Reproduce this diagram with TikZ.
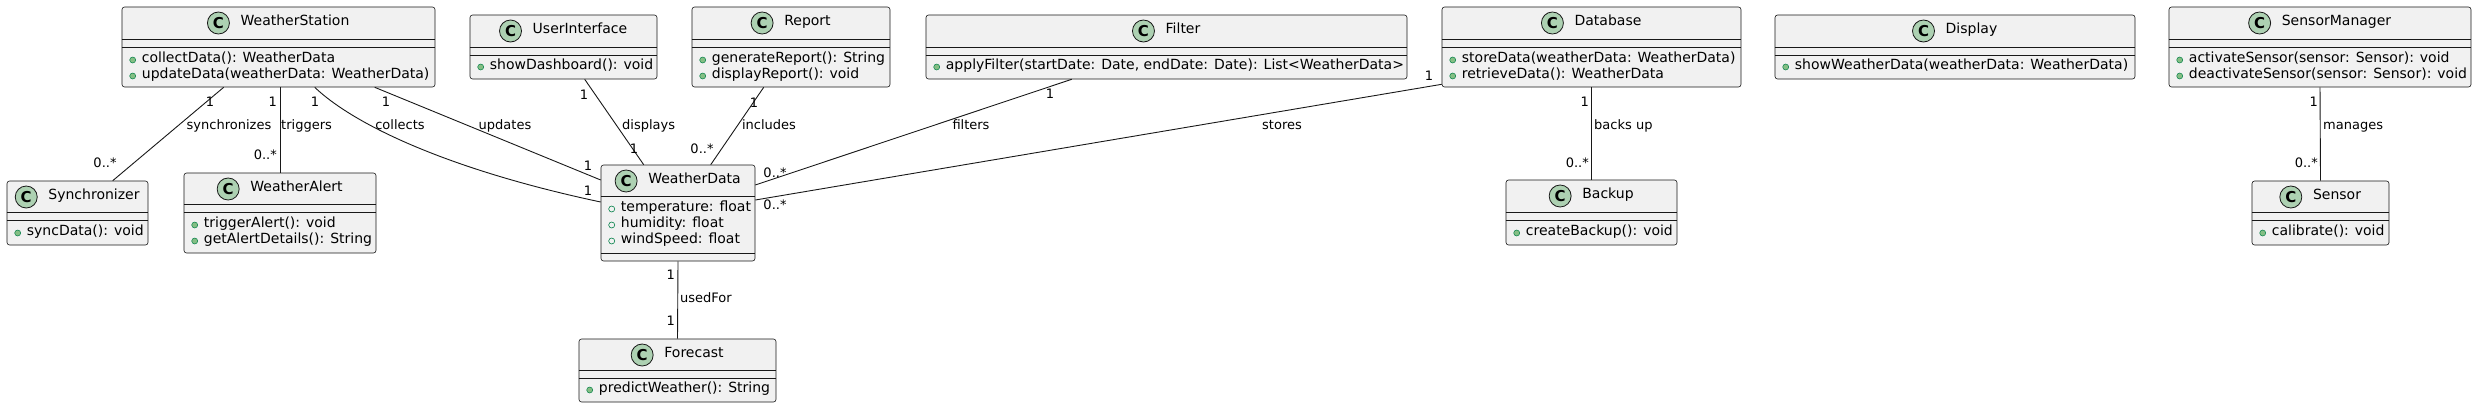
\documentclass[tikz,border=0pt]{standalone}
\usepackage{fontspec}
\setmainfont{DejaVu Sans}
\usepackage{tikz}
\usetikzlibrary{positioning,calc}
\definecolor{umlfill}{HTML}{F1F1F1}
\definecolor{umlline}{HTML}{181818}
\definecolor{umlicon}{HTML}{ADD1B2}
\definecolor{opfill}{HTML}{84BE84}
\definecolor{opline}{HTML}{038048}
\tikzset{
	classbox/.style={draw=umlline, line width=0.6pt, fill=umlfill, rounded corners=2.5pt, inner sep=0pt},
	classname/.style={inner sep=0pt, anchor=mid, font=\fontsize{14}{16}\selectfont},
	classicon/.style={circle, draw=umlline, line width=0.8pt, fill=umlicon, minimum size=22pt, inner sep=0pt, font=\fontsize{15}{16}\selectfont\bfseries},
	member/.style={inner sep=0pt, anchor=mid west, font=\fontsize{14}{16}\selectfont},
	assoc/.style={draw=umlline, line width=0.9pt},
	mult/.style={inner sep=0pt, anchor=mid, font=\fontsize{13}{15}\selectfont},
}
\newcounter{umlrow}
% class box: name, x1, y1, x2, y2, title
\newcommand{\umlclass}[6]{%
	\node[classbox, minimum width={#4-#2}, minimum height={#5-#3}] (#1) at ({(#2+#4)/2},{(#3+#5)/2}) {};
	\node[classname] (#1-name) at ({(#2+#4)/2+16.5},{#3+16}) {#6};
	\node[classicon] (#1-icon) at ([xshift=-22pt]#1-name.mid west) {C};
}
% compartment line
\newcommand{\umlsep}[2]{%
	\draw[umlline, line width=0.6pt] (#1.west |- 0,#2) -- (#1.east |- 0,#2);
}
% public operation
\newcommand{\umlop}[3]{%
	\stepcounter{umlrow}
	\filldraw[fill=opfill, draw=opline, line width=0.5pt] ($(#1.west |- 0,#2)+(11,0)$) circle (3pt);
	\node[member] (row\theumlrow) at ($(#1.west |- 0,#2)+(20,0)$) {#3};
}
% public field
\newcommand{\umlattr}[3]{%
	\stepcounter{umlrow}
	\draw[draw=opline, line width=0.6pt] ($(#1.west |- 0,#2)+(11,0)$) circle (3pt);
	\node[member] (row\theumlrow) at ($(#1.west |- 0,#2)+(20,0)$) {#3};
}
\begin{document}
\begin{tikzpicture}[x=1pt, y=-1pt]
	\useasboundingbox (0,0) rectangle (2477,408);
	% top row
	\umlclass{ws}{122}{7}{435}{87}{WeatherStation}
	\umlsep{ws}{39}\umlsep{ws}{47}
	\umlop{ws}{60}{collectData(): WeatherData}
	\umlop{ws}{76}{updateData(weatherData: WeatherData)}
	\umlclass{ui}{470}{15}{657}{79}{UserInterface}
	\umlsep{ui}{47}\umlsep{ui}{55}
	\umlop{ui}{67}{showDashboard(): void}
	\umlclass{report}{692}{7}{890}{87}{Report}
	\umlsep{report}{39}\umlsep{report}{47}
	\umlop{report}{60}{generateReport(): String}
	\umlop{report}{76}{displayReport(): void}
	\umlclass{filter}{926}{15}{1407}{79}{Filter}
	\umlsep{filter}{47}\umlsep{filter}{55}
	\umlop{filter}{67}{applyFilter(startDate: Date, endDate: Date): List<WeatherData>}
	\umlclass{db}{1442}{7}{1741}{87}{Database}
	\umlsep{db}{39}\umlsep{db}{47}
	\umlop{db}{60}{storeData(weatherData: WeatherData)}
	\umlop{db}{76}{retrieveData(): WeatherData}
	\umlclass{display}{1775}{15}{2135}{79}{Display}
	\umlsep{display}{47}\umlsep{display}{55}
	\umlop{display}{67}{showWeatherData(weatherData: WeatherData)}
	\umlclass{sm}{2169}{7}{2471}{87}{SensorManager}
	\umlsep{sm}{39}\umlsep{sm}{47}
	\umlop{sm}{60}{activateSensor(sensor: Sensor): void}
	\umlop{sm}{76}{deactivateSensor(sensor: Sensor): void}
	% lower rows
	\umlclass{sync}{7}{181}{148}{245}{Synchronizer}
	\umlsep{sync}{212}\umlsep{sync}{220}
	\umlop{sync}{233}{syncData(): void}
	\umlclass{alert}{184}{173}{376}{253}{WeatherAlert}
	\umlsep{alert}{204}\umlsep{alert}{212}
	\umlop{alert}{225}{triggerAlert(): void}
	\umlop{alert}{241}{getAlertDetails(): String}
	\umlclass{wd}{601}{165}{755}{261}{WeatherData}
	\umlsep{wd}{196}\umlsep{wd}{253}
	\umlattr{wd}{209}{temperature: float}
	\umlattr{wd}{225}{humidity: float}
	\umlattr{wd}{241}{windSpeed: float}
	\umlclass{forecast}{579}{339}{776}{402}{Forecast}
	\umlsep{forecast}{370}\umlsep{forecast}{378}
	\umlop{forecast}{390}{predictWeather(): String}
	\umlclass{backup}{1506}{180}{1677}{245}{Backup}
	\umlsep{backup}{212}\umlsep{backup}{220}
	\umlop{backup}{233}{createBackup(): void}
	\umlclass{sensor}{2252}{181}{2389}{245}{Sensor}
	\umlsep{sensor}{212}\umlsep{sensor}{220}
	\umlop{sensor}{233}{calibrate(): void}
	% associations
	\draw[assoc] ([xshift=102pt]ws.south west) -- ([xshift=106pt]sync.north west);
	\draw[assoc] (ws.south -| alert.north) -- (alert.north);
	\draw[assoc] ([xshift=193pt]ws.south west) .. controls +(40,38) and +(-151,-32) .. ([yshift=11pt]wd.west);
	\draw[assoc] ([xshift=253pt]ws.south west) -- ([yshift=33pt]wd.west);
	\draw[assoc] ([xshift=115pt]ui.south west) -- ([xshift=43pt]wd.north west);
	\draw[assoc] ([xshift=72pt]report.south west) -- ([xshift=110pt]wd.north west);
	\draw[assoc] ([xshift=146pt]filter.south west) -- ([yshift=28pt]wd.east);
	\draw[assoc] ([yshift=3pt]db.south west) -- ([yshift=13pt]wd.east);
	\draw[assoc] (wd.south) -- (forecast.north);
	\draw[assoc] (db.south) -- (backup.north);
	\draw[assoc] (sm.south) -- (sensor.north);
	% multiplicities and names
	\node[mult] (sync-a) at (210,104) {1};
	\node[mult] (sync-l) at (229,127) {synchronizes};
	\node[mult] (sync-b) at (105,165) {0..*};
	\node[mult, anchor=mid east] (trig-a) at (277,104) {1};
	\node[mult, anchor=mid west] (trig-l) at (281,127) {triggers};
	\node[mult, anchor=mid east] (trig-b) at (277,157) {0..*};
	\node[mult] (coll-a) at (315,104) {1};
	\node[mult] (coll-l) at (400,127) {collects};
	\node[mult] (coll-b) at (588,193) {1};
	\node[mult] (upd-a) at (386,104) {1};
	\node[mult] (upd-l) at (505,127) {updates};
	\node[mult] (upd-b) at (588,168) {1};
	\node[mult] (disp-a) at (584,97) {1};
	\node[mult, anchor=mid west] (disp-l) at (622,127) {displays};
	\node[mult] (disp-b) at (634,151) {1};
	\node[mult] (incl-a) at (754,105) {1};
	\node[mult] (incl-l) at (769,127) {includes};
	\node[mult] (incl-b) at (702,151) {0..*};
	\node[mult] (filt-a) at (1050,96) {1};
	\node[mult] (filt-l) at (971,127) {filters};
	\node[mult] (filt-b) at (775,175) {0..*};
	\node[mult] (stor-a) at (1429,78) {1};
	\node[mult] (stor-l) at (1282,127) {stores};
	\node[mult] (stor-b) at (775,207) {0..*};
	\node[mult, anchor=mid east] (used-a) at (675,277) {1};
	\node[mult, anchor=mid west] (used-l) at (680,300) {usedFor};
	\node[mult, anchor=mid east] (used-b) at (675,323) {1};
	\node[mult, anchor=mid east] (back-a) at (1589,104) {1};
	\node[mult, anchor=mid west] (back-l) at (1594,127) {backs up};
	\node[mult, anchor=mid east] (back-b) at (1589,165) {0..*};
	\node[mult, anchor=mid east] (man-a) at (2318,104) {1};
	\node[mult, anchor=mid west] (man-l) at (2323,127) {manages};
	\node[mult, anchor=mid east] (man-b) at (2318,165) {0..*};
\end{tikzpicture}
\end{document}
